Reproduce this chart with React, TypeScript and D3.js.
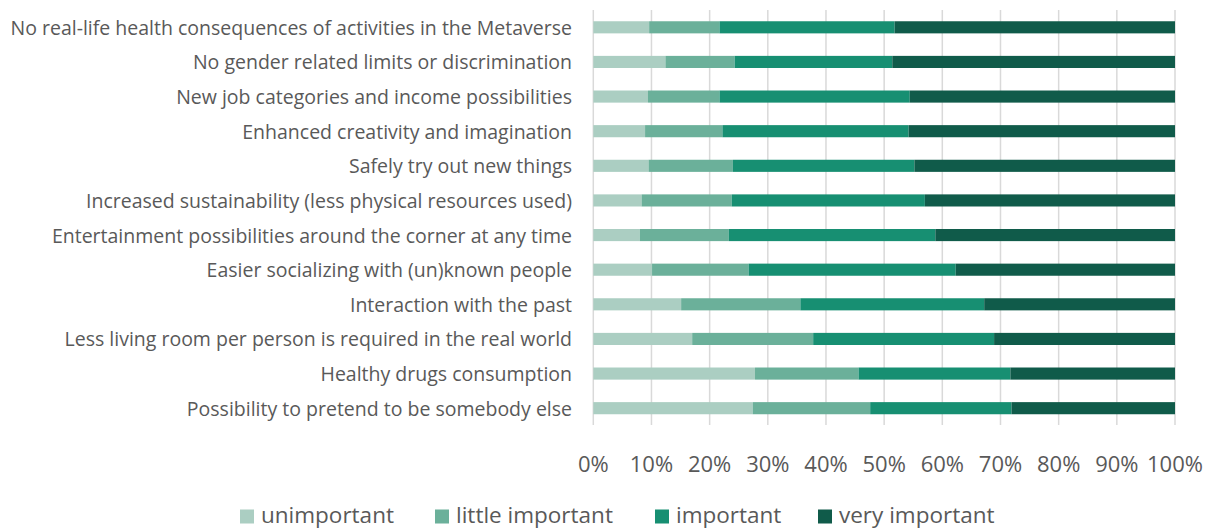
import React from "react";
import * as d3 from "d3";

const categories = [
  "No real-life health consequences of activities in the Metaverse",
  "No gender related limits or discrimination",
  "New job categories and income possibilities",
  "Enhanced creativity and imagination",
  "Safely try out new things",
  "Increased sustainability (less physical resources used)",
  "Entertainment possibilities around the corner at any time",
  "Easier socializing with (un)known people",
  "Interaction with the past",
  "Less living room per person is required in the real world",
  "Healthy drugs consumption",
  "Possibility to pretend to be somebody else",
];

const seriesNames = ["unimportant", "little important", "important", "very important"];

const unimportant = [9.6, 12.4, 9.4, 8.9, 9.5, 8.3, 8.0, 10.1, 15.1, 17.0, 27.8, 27.4];
const littleImportant = [12.1, 11.9, 12.3, 13.3, 14.5, 15.5, 15.3, 16.6, 20.5, 20.8, 17.8, 20.2];
const important = [30.1, 27.1, 32.7, 32.0, 31.2, 33.2, 35.5, 35.6, 31.6, 31.1, 26.1, 24.3];
const veryImportant = [48.2, 48.6, 45.6, 45.8, 44.8, 43.0, 41.2, 37.7, 32.8, 31.1, 28.3, 28.1];

const tickValues = [0, 0.1, 0.2, 0.3, 0.4, 0.5, 0.6, 0.7, 0.8, 0.9, 1.0];

const colors = ["#abcec2", "#6bb09a", "#178f72", "#105b4a"];

export default function App() {
  const W = 1211;
  const H = 530;
  const x0 = 593.3;
  const x1 = 1175;
  const x = d3.scaleLinear().domain([0, 1]).range([x0, x1]);
  const y = d3
    .scaleBand<string>()
    .domain(categories)
    .range([10, 425.5])
    .paddingInner(0.65)
    .paddingOuter(0.325);

  const rows = categories.map((c, i) => {
    const vals = [unimportant[i], littleImportant[i], important[i], veryImportant[i]];
    const total = d3.sum(vals);
    const obj: any = { cat: c };
    seriesNames.forEach((s, k) => (obj[s] = vals[k] / total));
    return obj;
  });
  const stacked = d3.stack<any>().keys(seriesNames)(rows);

  const font = "'Open Sans', 'Noto Sans', sans-serif";
  const legendX = [240, 435, 655, 818];

  return (
    <svg width={W} height={H} style={{ position: "absolute", left: 0, top: 0 }}>
      <rect width={W} height={H} fill="#fff" />
      {tickValues.map((t) => (
        <line
          key={"g" + t}
          x1={x(t)}
          x2={x(t)}
          y1={10}
          y2={425}
          stroke="#d9d9d9"
          strokeWidth={1.5}
        />
      ))}
      {stacked.map((layer, k) =>
        layer.map((d, i) => (
          <rect
            key={k + "-" + i}
            x={x(d[0])}
            y={y(categories[i])}
            width={x(d[1]) - x(d[0])}
            height={y.bandwidth()}
            fill={colors[k]}
          />
        ))
      )}
      {categories.map((c) => (
        <text
          key={c}
          x={572}
          y={(y(c) as number) + y.bandwidth() / 2}
          textAnchor="end"
          dominantBaseline="central"
          fontFamily={font}
          fontSize={19.5}
          fill="#595959"
        >
          {c}
        </text>
      ))}
      {tickValues.map((t) => (
        <text
          key={"t" + t}
          x={x(t)}
          y={463}
          textAnchor="middle"
          dominantBaseline="central"
          fontFamily={font}
          fontSize={22}
          fill="#595959"
        >
          {d3.format(".0%")(t)}
        </text>
      ))}
      {seriesNames.map((s, k) => (
        <g key={s} transform={`translate(${legendX[k]},514)`}>
          <rect x={0} y={-4.5} width={14} height={14} fill={colors[k]} />
          <text
            x={21}
            y={0}
            dominantBaseline="central"
            fontFamily={font}
            fontSize={22.5}
            fill="#595959"
          >
            {s}
          </text>
        </g>
      ))}
    </svg>
  );
}
